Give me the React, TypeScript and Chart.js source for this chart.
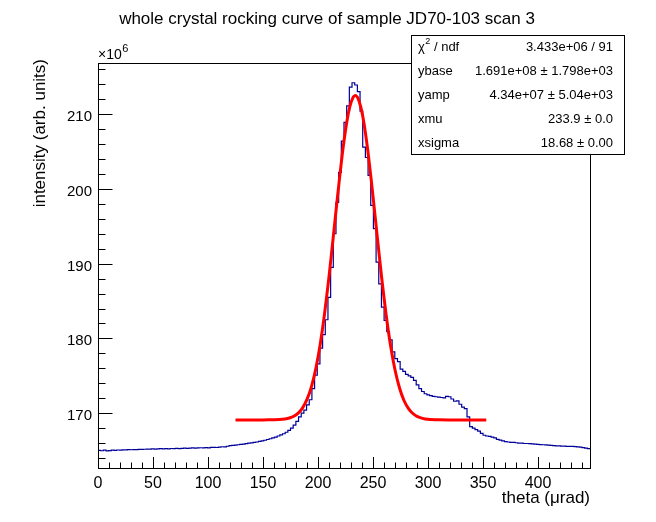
import { useEffect, useRef } from 'react';
import { Chart, registerables } from 'chart.js';

Chart.register(...registerables);

// histogram: 184 bins from 0 to 447.3 urad, contents in units of 1e6
const binLow = 0;
const binWidth = 2.431;
const counts = [
  165.02, 164.98, 165.05, 164.97, 165.0, 165.06, 165.04, 165.08, 165.07, 165.1,
  165.09, 165.12, 165.11, 165.14, 165.13, 165.16, 165.15, 165.18, 165.2, 165.19,
  165.22, 165.2, 165.23, 165.25, 165.22, 165.26, 165.24, 165.28, 165.25, 165.3,
  165.27, 165.3, 165.33, 165.29, 165.32, 165.35, 165.33, 165.36, 165.38, 165.35,
  165.4, 165.37, 165.42, 165.44, 165.41, 165.47, 165.51, 165.5, 165.58, 165.66,
  165.7, 165.72, 165.78, 165.82, 165.86, 165.93, 166.0, 166.04, 166.1, 166.15,
  166.22, 166.3, 166.38, 166.48, 166.58, 166.7, 166.8, 166.95, 167.1, 167.25,
  167.45, 167.7, 168.0, 168.4, 168.9, 169.5, 170.0, 170.4, 171.1, 171.8,
  173.3, 175.1, 176.6, 178.7, 180.5, 182.5, 185.5, 189.5, 194.0, 198.2,
  202.2, 206.4, 208.9, 211.1, 213.6, 214.2, 213.9, 213.0, 210.4, 205.6,
  204.2, 201.8, 197.8, 194.7, 190.2, 187.3, 184.2, 182.4, 180.9, 179.8,
  178.2, 177.3, 176.9, 175.9, 175.6, 175.2, 175.0, 174.8, 174.4, 173.8,
  173.3, 172.9, 172.6, 172.45, 172.35, 172.25, 172.2, 172.15, 172.1, 172.05,
  172.25, 172.2, 171.9, 171.6, 171.65, 171.2, 170.8, 170.6, 169.5, 168.2,
  168.0, 167.8, 167.6, 167.3, 167.05, 166.95, 166.9, 166.8, 166.7, 166.5,
  166.4, 166.3, 166.2, 166.15, 166.1, 166.1, 166.05, 166.0, 166.0, 165.95,
  165.95, 165.93, 165.9, 165.86, 165.84, 165.8, 165.78, 165.75, 165.72, 165.7,
  165.67, 165.64, 165.62, 165.6, 165.6, 165.57, 165.55, 165.56, 165.52, 165.5,
  165.45, 165.4, 165.33, 165.25,
];

// fitted curve
const fitX = [
  125, 135, 145, 155, 160, 165, 170, 174, 178, 182, 186, 190, 194, 198, 202,
  206, 210, 214, 218, 222, 226, 229, 232, 234, 236, 239, 242, 246, 250, 254,
  258, 262, 266, 270, 274, 278, 282, 286, 290, 295, 300, 310, 320, 335, 353,
];
const fitY = [
  169.1, 169.1, 169.1, 169.11, 169.12, 169.15, 169.23, 169.35, 169.59, 170.01,
  170.72, 171.84, 173.53, 175.95, 179.2, 183.33, 188.24, 193.71, 199.31, 204.53,
  208.79, 211.03, 212.28, 212.5, 212.23, 210.91, 208.61, 204.29, 199.04, 193.43,
  187.98, 183.1, 179.02, 175.81, 173.44, 171.77, 170.68, 169.99, 169.58, 169.31,
  169.18, 169.11, 169.1, 169.1, 169.1,
];

const xMajorTicks = [0, 50, 100, 150, 200, 250, 300, 350, 400];
const yMajorTicks = [170, 180, 190, 200, 210];

const titleText = 'whole crystal rocking curve of sample JD70-103 scan 3';
const xTitle = 'theta (\u03bcrad)';
const yTitle = 'intensity (arb. units)';

const statNames = ['ybase', 'yamp', 'xmu', 'xsigma'];
const statValues = [
  '1.691e+08 \u00b1 1.798e+03',
  '4.34e+07 \u00b1 5.04e+03',
  '233.9 \u00b1 0.0',
  '18.68 \u00b1 0.00',
];
const chi2Value = '3.433e+06 / 91';

const FONT = '"Liberation Sans", Arial, Helvetica, sans-serif';

const rootAxes = {
  id: 'rootAxes',
  afterDatasetsDraw(chart: any) {
    const { ctx, chartArea: a, scales } = chart;
    const xs = scales.x;
    const ys = scales.y;
    ctx.save();
    ctx.strokeStyle = '#000';
    ctx.lineWidth = 1;
    ctx.strokeRect(a.left + 0.5, a.top + 0.5, a.right - a.left, a.bottom - a.top);

    ctx.beginPath();
    for (let v = 0; v <= xs.max; v += 10) {
      const px = Math.round(xs.getPixelForValue(v)) + 0.5;
      const len = v % 50 === 0 ? 11 : 5.5;
      ctx.moveTo(px, a.bottom);
      ctx.lineTo(px, a.bottom - len);
    }
    for (let v = 164; v <= ys.max; v += 2) {
      const py = Math.round(ys.getPixelForValue(v)) + 0.5;
      const len = v % 10 === 0 ? 14.5 : 7.5;
      ctx.moveTo(a.left, py);
      ctx.lineTo(a.left + len, py);
    }
    ctx.stroke();

    ctx.fillStyle = '#000';
    ctx.font = `16px ${FONT}`;
    ctx.textAlign = 'center';
    ctx.textBaseline = 'alphabetic';
    xMajorTicks.forEach((v) => {
      ctx.fillText(String(v), xs.getPixelForValue(v), 488);
    });
    ctx.font = `15px ${FONT}`;
    ctx.textAlign = 'right';
    yMajorTicks.forEach((v) => {
      ctx.fillText(String(v), 92, ys.getPixelForValue(v) + 7);
    });

    // x10^6 multiplier
    ctx.textAlign = 'left';
    ctx.font = `14px ${FONT}`;
    ctx.fillText('\u00d710', 98, 59);
    const w = ctx.measureText('\u00d710').width;
    ctx.font = `11px ${FONT}`;
    ctx.fillText('6', 98 + w + 0.5, 52);

    // axis titles
    ctx.font = `17px ${FONT}`;
    ctx.textAlign = 'right';
    ctx.textBaseline = 'middle';
    ctx.fillText(xTitle, a.right, 498);
    ctx.save();
    ctx.translate(40, 59);
    ctx.rotate(-Math.PI / 2);
    ctx.fillText(yTitle, 0, 0);
    ctx.restore();

    ctx.textAlign = 'center';
    ctx.textBaseline = 'alphabetic';
    ctx.fillText(titleText, 327, 24);
    ctx.restore();
  },
  afterDraw(chart: any) {
    const { ctx } = chart;
    const bx = 411;
    const by = 35;
    const bw = 213;
    const bh = 120;
    ctx.save();
    ctx.fillStyle = '#fff';
    ctx.fillRect(bx, by, bw, bh);
    ctx.strokeStyle = '#000';
    ctx.lineWidth = 1;
    ctx.strokeRect(bx + 0.5, by + 0.5, bw, bh - 1);
    ctx.fillStyle = '#000';
    ctx.textBaseline = 'middle';
    const rowH = bh / 5;
    const left = bx + 7;
    const right = bx + bw - 11;

    // chi2 row
    let cy = by + rowH / 2;
    ctx.font = `13px ${FONT}`;
    ctx.textAlign = 'left';
    ctx.fillText('\u03c7', left, cy);
    let cx = left + ctx.measureText('\u03c7').width;
    ctx.font = `9px ${FONT}`;
    ctx.fillText('2', cx + 0.5, cy - 5);
    cx += ctx.measureText('2').width + 0.5;
    ctx.font = `13px ${FONT}`;
    ctx.fillText(' / ndf', cx, cy);
    ctx.textAlign = 'right';
    ctx.fillText(chi2Value, right, cy);

    statNames.forEach((name, i) => {
      cy = by + rowH * (i + 1.5);
      ctx.textAlign = 'left';
      ctx.fillText(name, left, cy);
      ctx.textAlign = 'right';
      ctx.fillText(statValues[i], right, cy);
    });
    ctx.restore();
  },
};

export default function App() {
  const canvasRef = useRef<HTMLCanvasElement>(null);
  const chartRef = useRef<Chart | null>(null);

  useEffect(() => {
    if (!canvasRef.current) return;
    const histPoints = counts.map((c, i) => ({ x: binLow + i * binWidth, y: c }));
    histPoints.push({ x: binLow + counts.length * binWidth, y: counts[counts.length - 1] });
    const fitPoints = fitX.map((x, i) => ({ x, y: fitY[i] }));

    chartRef.current = new Chart(canvasRef.current, {
      type: 'line',
      data: {
        datasets: [
          {
            data: fitPoints,
            borderColor: '#ff0000',
            borderWidth: 3,
            pointRadius: 0,
            fill: false,
            tension: 0.2,
          },
          {
            data: histPoints,
            stepped: 'before',
            borderColor: '#000099',
            borderWidth: 1.2,
            pointRadius: 0,
            fill: false,
          },
        ],
      },
      options: {
        animation: false,
        responsive: false,
        events: [],
        layout: { padding: { left: 98, top: 63, right: 66, bottom: 54 } },
        plugins: {
          legend: { display: false },
          title: { display: false },
          tooltip: { enabled: false },
        },
        scales: {
          x: { type: 'linear', min: 0, max: 447.3, display: false },
          y: { type: 'linear', min: 162.67, max: 216.84, display: false },
        },
      },
      plugins: [rootAxes],
    });

    return () => {
      chartRef.current?.destroy();
    };
  }, []);

  return (
    <div style={{ position: 'fixed', left: 0, top: 0, width: 656, height: 522, background: '#fff' }}>
      <canvas ref={canvasRef} width={656} height={522} style={{ display: 'block' }} />
    </div>
  );
}
